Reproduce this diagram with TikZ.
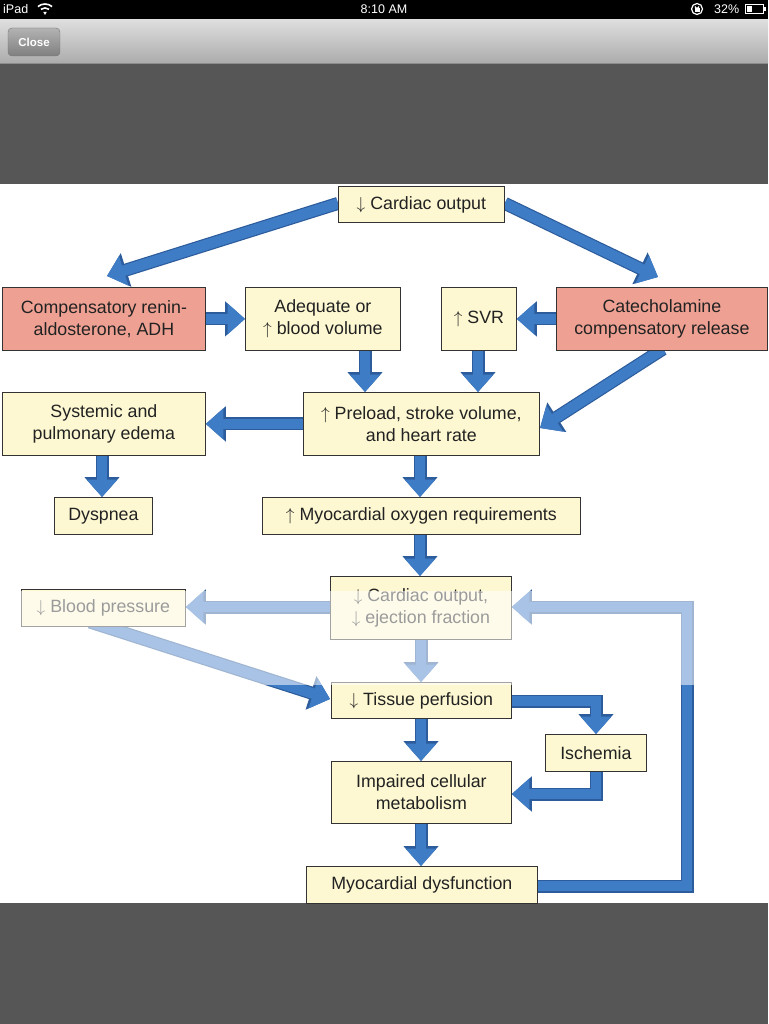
\documentclass[tikz,border=0pt]{standalone}
\usepackage{fontspec}
\setmainfont{Liberation Sans}
\usetikzlibrary{arrows.meta,calc}
\definecolor{ybox}{HTML}{FDF8D2}
\definecolor{sbox}{HTML}{EEA193}
\definecolor{ablue}{HTML}{3F7CC6}
\definecolor{adark}{HTML}{2C5C9C}
\definecolor{bandgray}{HTML}{565656}
\definecolor{txt}{HTML}{222222}
\pgfdeclarelayer{back}
\pgfdeclarelayer{bg}
\pgfdeclarelayer{fg}
\pgfsetlayers{back,bg,main,fg}
\begin{document}
\begin{tikzpicture}[x=1pt,y=-1pt,
  box/.style={draw=black!80, line width=0.8pt, fill=ybox, text=txt,
    font=\fontsize{17.8}{22}\selectfont, align=center, inner sep=0pt, anchor=north west},
  rbox/.style={box, fill=sbox},
  flow/.style={preaction={draw=adark, line width=13pt, line join=miter,
      -{Triangle[width=34pt,length=20pt]}},
    draw=ablue, line width=10.6pt, line join=miter,
    -{Triangle[width=30pt,length=17.5pt]}},
  bar/.style={font=\fontsize{12.5}{14}\selectfont, text=white, inner sep=0pt}]
\useasboundingbox (0,0) rectangle (768,1024);
\begin{pgfonlayer}{back}
% screen background
\fill[white] (0,0) rectangle (768,1024);
\fill[black] (0,0) rectangle (768,20);
\shade[top color=black!13, bottom color=black!33] (0,20) rectangle (768,64);
\draw[black!45, line width=1pt] (0,63.5) -- (768,63.5);
\fill[bandgray] (0,64) rectangle (768,184);
\fill[bandgray] (0,903) rectangle (768,1024);
\end{pgfonlayer}
% status bar
\node[bar, anchor=west] (ipad) at (3,9) {iPad};
\begin{scope}[shift={(45,15)}, white]
  \fill (0,0) -- (240:3.5) arc[start angle=240, end angle=300, radius=3.5] -- cycle;
  \draw[line width=1.6pt] (235:7) arc[start angle=235, end angle=305, radius=7];
  \draw[line width=1.6pt] (230:11) arc[start angle=230, end angle=310, radius=11];
\end{scope}
\node[bar] (time) at (384,9) {8:10 AM};
\begin{scope}[shift={(697,9)}, white]
  \draw[line width=1.2pt] (0,0) circle (5.5pt);
  \fill (-2.5,-0.5) rectangle (2.5,3.5);
  \draw[line width=1pt] (-1.6,-0.5) -- (-1.6,-2) arc[start angle=180, end angle=0, radius=1.6] -- (1.6,-0.5);
\end{scope}
\node[bar, anchor=west] (pct) at (714,9) {32\%};
\draw[white, line width=1pt] (745,4.5) rectangle (763,13.5);
\fill[white] (763.5,7) rectangle (765.5,11);
\fill[white] (746.5,6) rectangle (752,12);
% close button
\shade[rounded corners=4pt, top color=black!30, bottom color=black!50, draw=black!55]
  (8,28) rectangle (60,56);
\node[font=\fontsize{11.5}{13}\selectfont\bfseries, text=white] (close) at (34,42) {Close};

% nodes
\node[box, minimum width=166pt, minimum height=36pt] (co) at (338,186) {$\downarrow$ Cardiac output};
\node[rbox, minimum width=203pt, minimum height=63pt] (ren) at (2,287) {Compensatory renin-\\aldosterone, ADH};
\node[box, minimum width=155pt, minimum height=63pt] (adq) at (245,287) {Adequate or\\$\uparrow$ blood volume};
\node[box, minimum width=75pt, minimum height=63pt] (svr) at (441,287) {$\uparrow$ SVR};
\node[rbox, minimum width=211pt, minimum height=63pt] (cat) at (556,287) {Catecholamine\\compensatory release};
\node[box, minimum width=203pt, minimum height=63pt] (ede) at (2,392) {Systemic and\\pulmonary edema};
\node[box, minimum width=236pt, minimum height=63pt] (pre) at (303,392) {$\uparrow$ Preload, stroke volume,\\and heart rate};
\node[box, minimum width=98pt, minimum height=37pt] (dys) at (54,497) {Dyspnea};
\node[box, minimum width=318pt, minimum height=37pt] (mox) at (262,497) {$\uparrow$ Myocardial oxygen requirements};
\node[box, minimum width=181pt, minimum height=63pt] (coe) at (330,576) {$\downarrow$ Cardiac output,\\$\downarrow$ ejection fraction};
\node[box, minimum width=164pt, minimum height=37pt] (bp) at (21,589) {$\downarrow$ Blood pressure};
\node[box, minimum width=180pt, minimum height=36pt] (tis) at (331,682) {$\downarrow$ Tissue perfusion};
\node[box, minimum width=101pt, minimum height=37pt] (isc) at (545,734) {Ischemia};
\node[box, minimum width=180pt, minimum height=62pt] (imp) at (331,761) {Impaired cellular\\metabolism};
\node[box, minimum width=231pt, minimum height=37pt] (myd) at (306,866) {Myocardial dysfunction};

% free ends
\coordinate (tipL) at (107,276);
\coordinate (tipR) at (658,277);
\coordinate (catS) at (663,349);
\coordinate (tipP) at (540,428);
\coordinate (bpS) at (90,622);
\coordinate (tipT) at (330,699);
\coordinate (elb1) at (596,701);
\coordinate (elb2) at (596,794);
\coordinate (fb1) at (687,886);
\coordinate (fb2) at (687,607);

\begin{pgfonlayer}{bg}
\draw[flow] ($(co.west)+(0,-1)$) -- (tipL);
\draw[flow] ($(co.east)+(0,-1)$) -- (tipR);
\draw[flow] (ren.east) -- (adq.west);
\draw[flow] (cat.west) -- (svr.east);
\draw[flow] (adq.south -| 365,0) -- (pre.north -| 365,0);
\draw[flow] (svr.south -| 478,0) -- (pre.north -| 478,0);
\draw[flow] (catS) -- (tipP);
\draw[flow] (pre.west) -- (ede.east);
\draw[flow] (ede.south -| 102,0) -- (dys.north -| 102,0);
\draw[flow] (pre.south -| 420,0) -- (mox.north -| 420,0);
\draw[flow] (mox.south -| 420,0) -- (coe.north -| 420,0);
\draw[flow] (coe.west |- 0,607) -- (bp.east |- 0,607);
\draw[flow] (coe.south -| 421,0) -- (tis.north -| 421,0);
\draw[flow] (bpS) -- (tipT);
\draw[flow] (tis.east |- 0,701) -- (elb1) -- (isc.north -| elb1);
\draw[flow] (tis.south -| 421,0) -- (imp.north -| 421,0);
\draw[flow] (isc.south -| elb1) -- (elb2) -- (imp.east |- elb2);
\draw[flow] (imp.south -| 421,0) -- (myd.north -| 421,0);
\draw[flow] (myd.east |- fb1) -- (fb1) -- (fb2) -- (coe.east |- fb2);
\end{pgfonlayer}

% faded (watermark) band
\begin{pgfonlayer}{fg}
\fill[white, opacity=0.55] (0,591) rectangle (700,685);
\end{pgfonlayer}
\end{tikzpicture}
\end{document}
